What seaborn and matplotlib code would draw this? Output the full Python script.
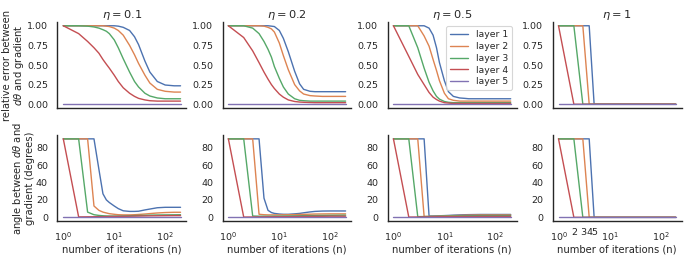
import numpy as np
import pandas as pd
import matplotlib
matplotlib.use("Agg")
import matplotlib.pyplot as plt
import seaborn as sns

# iterations where the curves were sampled
n_iter = [1, 2, 3, 4, 5, 6, 7, 8, 10, 12, 15, 20, 25, 30, 40, 50, 70, 100, 150, 200]
layers = ["layer 1", "layer 2", "layer 3", "layer 4", "layer 5"]
etas = ["0.1", "0.2", "0.5", "1"]
zeros = [0, 0, 0, 0, 0, 0, 0, 0, 0, 0, 0, 0, 0, 0, 0, 0, 0, 0, 0, 0]

# relative error between dtheta and gradient (one list per layer)
err_01 = [
    [1, 1, 1, 1, 1, 1, 1, 1, 1, 0.995, 0.98, 0.94, 0.86, 0.76, 0.55, 0.41, 0.29, 0.245, 0.235, 0.235],
    [1, 1, 1, 1, 1, 1, 0.995, 0.99, 0.97, 0.94, 0.88, 0.75, 0.63, 0.52, 0.37, 0.27, 0.19, 0.165, 0.155, 0.155],
    [1, 1, 0.995, 0.985, 0.97, 0.95, 0.93, 0.90, 0.82, 0.72, 0.58, 0.41, 0.29, 0.22, 0.14, 0.105, 0.08, 0.07, 0.07, 0.07],
    [1, 0.90, 0.80, 0.72, 0.65, 0.57, 0.51, 0.46, 0.37, 0.29, 0.21, 0.14, 0.10, 0.075, 0.055, 0.045, 0.04, 0.04, 0.04, 0.04],
    zeros,
]
err_02 = [
    [1, 1, 1, 1, 1, 1, 0.995, 0.99, 0.94, 0.84, 0.67, 0.42, 0.26, 0.19, 0.165, 0.16, 0.16, 0.16, 0.16, 0.16],
    [1, 1, 1, 1, 0.995, 0.98, 0.96, 0.92, 0.78, 0.62, 0.44, 0.25, 0.17, 0.13, 0.11, 0.105, 0.10, 0.10, 0.10, 0.10],
    [1, 1, 0.97, 0.90, 0.80, 0.70, 0.60, 0.48, 0.33, 0.22, 0.13, 0.07, 0.05, 0.045, 0.04, 0.04, 0.04, 0.04, 0.04, 0.04],
    [1, 0.85, 0.68, 0.53, 0.41, 0.32, 0.25, 0.20, 0.13, 0.09, 0.055, 0.035, 0.028, 0.025, 0.022, 0.02, 0.02, 0.02, 0.02, 0.02],
    zeros,
]
err_05 = [
    [1, 1, 1, 1, 0.97, 0.88, 0.72, 0.53, 0.30, 0.16, 0.10, 0.08, 0.075, 0.07, 0.07, 0.07, 0.07, 0.07, 0.07, 0.07],
    [1, 1, 1, 0.87, 0.74, 0.57, 0.43, 0.30, 0.14, 0.07, 0.05, 0.04, 0.04, 0.04, 0.04, 0.04, 0.04, 0.04, 0.04, 0.04],
    [1, 1, 0.72, 0.46, 0.28, 0.17, 0.10, 0.065, 0.035, 0.025, 0.02, 0.02, 0.02, 0.02, 0.02, 0.02, 0.02, 0.02, 0.02, 0.02],
    [1, 0.61, 0.38, 0.25, 0.15, 0.09, 0.06, 0.04, 0.02, 0.015, 0.01, 0.01, 0.01, 0.01, 0.01, 0.01, 0.01, 0.01, 0.01, 0.01],
    zeros,
]
err_1 = [
    [1, 1, 1, 1, 0, 0, 0, 0, 0, 0, 0, 0, 0, 0, 0, 0, 0, 0, 0, 0],
    [1, 1, 1, 0, 0, 0, 0, 0, 0, 0, 0, 0, 0, 0, 0, 0, 0, 0, 0, 0],
    [1, 1, 0, 0, 0, 0, 0, 0, 0, 0, 0, 0, 0, 0, 0, 0, 0, 0, 0, 0],
    [1, 0, 0, 0, 0, 0, 0, 0, 0, 0, 0, 0, 0, 0, 0, 0, 0, 0, 0, 0],
    zeros,
]

# angle between dtheta and gradient, degrees
ang_01 = [
    [90, 90, 90, 90, 55, 27, 20, 17, 13, 10, 7.5, 6.8, 6.8, 7, 8.5, 9.5, 11, 11.5, 11.5, 11.5],
    [90, 90, 90, 13, 8, 6, 5, 4.2, 3.5, 3, 2.8, 2.8, 3, 3.3, 3.8, 4.3, 5, 5.5, 5.8, 5.8],
    [90, 90, 6, 3, 2.2, 1.8, 1.6, 1.5, 1.5, 1.5, 1.6, 1.8, 2, 2.1, 2.3, 2.5, 2.7, 2.8, 2.9, 3],
    [90, 0.5, 0.6, 0.7, 0.8, 0.8, 0.9, 1, 1, 1.1, 1.2, 1.3, 1.4, 1.5, 1.6, 1.7, 1.8, 1.9, 2, 2],
    zeros,
]
ang_02 = [
    [90, 90, 90, 90, 22, 8, 5.5, 4.5, 3.8, 3.5, 3.5, 4, 4.5, 5.2, 6.2, 6.8, 7.2, 7.3, 7.3, 7.3],
    [90, 90, 90, 3.5, 3, 2.8, 2.8, 2.8, 2.8, 2.9, 3, 3.1, 3.3, 3.4, 3.6, 3.8, 3.9, 4, 4, 4],
    [90, 90, 1.5, 1.3, 1.3, 1.3, 1.3, 1.4, 1.4, 1.5, 1.6, 1.7, 1.8, 1.9, 2, 2.1, 2.2, 2.3, 2.4, 2.5],
    [90, 0.3, 0.4, 0.5, 0.5, 0.6, 0.6, 0.7, 0.7, 0.8, 0.8, 0.9, 1, 1, 1.1, 1.2, 1.2, 1.3, 1.3, 1.3],
    zeros,
]
ang_05 = [
    [90, 90, 90, 90, 1.5, 1.6, 1.7, 1.8, 2, 2.2, 2.5, 2.8, 3, 3.1, 3.2, 3.3, 3.3, 3.3, 3.3, 3.3],
    [90, 90, 90, 1, 1.1, 1.2, 1.3, 1.4, 1.6, 1.8, 2, 2.2, 2.4, 2.5, 2.6, 2.7, 2.7, 2.7, 2.7, 2.7],
    [90, 90, 0.8, 0.9, 1, 1, 1.1, 1.2, 1.3, 1.4, 1.5, 1.6, 1.7, 1.8, 1.9, 2, 2, 2, 2, 2],
    [90, 0.3, 0.4, 0.5, 0.5, 0.6, 0.6, 0.7, 0.7, 0.8, 0.8, 0.9, 1, 1, 1, 1.1, 1.1, 1.1, 1.1, 1.1],
    zeros,
]
ang_1 = [
    [90, 90, 90, 90, 0, 0, 0, 0, 0, 0, 0, 0, 0, 0, 0, 0, 0, 0, 0, 0],
    [90, 90, 90, 0, 0, 0, 0, 0, 0, 0, 0, 0, 0, 0, 0, 0, 0, 0, 0, 0],
    [90, 90, 0, 0, 0, 0, 0, 0, 0, 0, 0, 0, 0, 0, 0, 0, 0, 0, 0, 0],
    [90, 0, 0, 0, 0, 0, 0, 0, 0, 0, 0, 0, 0, 0, 0, 0, 0, 0, 0, 0],
    zeros,
]

errors = [err_01, err_02, err_05, err_1]
angles = [ang_01, ang_02, ang_05, ang_1]


def to_frame(series):
    rows = []
    for name, vals in zip(layers, series):
        for n, v in zip(n_iter, vals):
            rows.append((n, v, name))
    return pd.DataFrame(rows, columns=["n", "value", "layer"])


sns.set_theme(context="paper", style="white")
plt.rcParams["font.family"] = ["DejaVu Sans"]
plt.rcParams["xtick.labelsize"] = 6.8
plt.rcParams["ytick.labelsize"] = 6.8
plt.rcParams["axes.labelsize"] = 7.2
plt.rcParams["axes.titlesize"] = 8.2

pal = sns.color_palette("deep", 5)

fig, axes = plt.subplots(2, 4, figsize=(6.92, 2.6), dpi=100)
fig.subplots_adjust(left=0.083, right=0.985, top=0.916, bottom=0.149,
                    wspace=0.28, hspace=0.31)

for j in range(4):
    top = axes[0, j]
    bot = axes[1, j]
    sns.lineplot(data=to_frame(errors[j]), x="n", y="value", hue="layer",
                 palette=pal, lw=1.0, ax=top, legend=(j == 2))
    sns.lineplot(data=to_frame(angles[j]), x="n", y="value", hue="layer",
                 palette=pal, lw=1.0, ax=bot, legend=False)
    for ax in (top, bot):
        ax.set_xscale("log")
        ax.set_ylabel("")
        ax.set_xlabel("")
    top.set_title(r"$\eta = %s$" % etas[j], pad=3)
    top.set_yticks([0, 0.25, 0.5, 0.75, 1.0])
    top.set_yticklabels(["0.00", "0.25", "0.50", "0.75", "1.00"])
    top.tick_params(labelbottom=False)
    bot.set_yticks([0, 20, 40, 60, 80])
    bot.set_xlabel("number of iterations (n)", labelpad=1)
    top.tick_params(axis="y", pad=2)
    bot.tick_params(axis="both", pad=2)
    sns.despine(ax=top)
    sns.despine(ax=bot)

axes[1, 3].set_xticks([2, 3, 4, 5], labels=["2", "3", "4", "5"], minor=True)
axes[1, 3].tick_params(axis="x", which="minor", labelsize=6.8, pad=2)

sns.move_legend(axes[0, 2], "upper right", title=None, fontsize=6.7,
                borderpad=0.4, labelspacing=0.3, handlelength=2.0)

axes[0, 0].set_ylabel("relative error between\n" + r"$d\theta$ and gradient",
                      linespacing=1.0, labelpad=1)
axes[1, 0].set_ylabel("angle between " + r"$d\theta$" + " and\ngradient (degrees)",
                      linespacing=1.0, labelpad=1)

fig.savefig("out.png", dpi=100)
